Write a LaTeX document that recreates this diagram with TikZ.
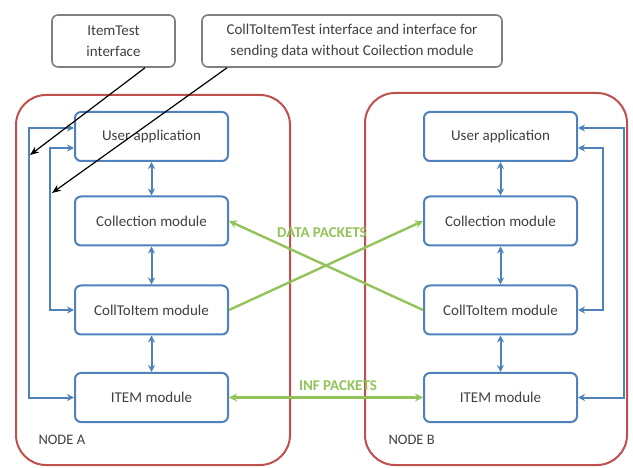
\documentclass[tikz,border=0pt]{standalone}
\usepackage{fontspec}
\setmainfont{Carlito}
\usetikzlibrary{arrows.meta}
\definecolor{bl}{HTML}{4F81BD}
\definecolor{rd}{HTML}{C0504D}
\definecolor{gn}{HTML}{92C45A}
\definecolor{gr}{HTML}{7F7F7F}
\definecolor{tx}{HTML}{404040}
\begin{document}
\begin{tikzpicture}[x=1pt,y=-1pt,
  module/.style={draw=bl, line width=2pt, rounded corners=6pt, minimum width=153pt, minimum height=49pt, text=tx, font=\fontsize{15}{17}\selectfont, inner sep=0pt},
  note/.style={draw=gr, line width=1.6pt, rounded corners=6pt, minimum height=52pt, text=tx, align=center, font=\fontsize{15}{21}\selectfont, inner sep=0pt},
  container/.style={draw=rd, line width=2pt, rounded corners=30pt},
  barr/.style={draw=bl, line width=2pt, {Stealth[length=7pt,width=7pt]}-{Stealth[length=7pt,width=7pt]}},
  garr/.style={draw=gn, line width=2.4pt, -{Stealth[length=8pt,width=8pt]}},
  gboth/.style={draw=gn, line width=2.4pt, {Stealth[length=8pt,width=8pt]}-{Stealth[length=8pt,width=8pt]}},
  karr/.style={draw=black, line width=1.2pt, -{Stealth[length=9pt,width=7pt]}},
  glabel/.style={text=gn, font=\bfseries\fontsize{15}{17}\selectfont},
  nlabel/.style={text=tx, font=\fontsize{14.5}{16}\selectfont, anchor=west}]
\useasboundingbox (0,0) rectangle (633,468);
\fill[white] (0,0) rectangle (633,468);
% containers
\draw[container] (16,95) rectangle (290,465);
\draw[container] (365,93) rectangle (627,465);
\node[nlabel] (na) at (35,440) {NODE A};
\node[nlabel] (nb) at (385,440) {NODE B};
% modules A
\node[module] (uaA) at (151.5,136.5) {User application};
\node[module] (colA) at (151.5,221) {Collection module};
\node[module] (ctA) at (151.5,310) {CollToItem module};
\node[module] (itA) at (151.5,397.5) {ITEM module};
% modules B
\node[module] (uaB) at (500.5,136.5) {User application};
\node[module] (colB) at (500.5,221) {Collection module};
\node[module] (ctB) at (500.5,310) {CollToItem module};
\node[module] (itB) at (500.5,397.5) {ITEM module};
% vertical links
\foreach \a/\b in {uaA/colA, colA/ctA, ctA/itA, uaB/colB, colB/ctB, ctB/itB}
  \draw[barr] (\a.south) -- (\b.north);
% feedback A
\draw[barr] ([yshift=8.5pt]uaA.west) -- ++(-45,0) |- (itA.west);
\draw[barr] ([yshift=-11.5pt]uaA.west) -- ++(-24,0) |- (ctA.west);
% feedback B
\draw[barr] ([yshift=8.5pt]uaB.east) -- ++(46,0) |- (itB.east);
\draw[barr] ([yshift=-11.5pt]uaB.east) -- ++(25,0) |- (ctB.east);
% notes
\node[note, minimum width=123pt] (itest) at (113.5,41) {ItemTest\\interface};
\node[note, minimum width=300pt] (ctest) at (352,41) {CollToItemTest interface and interface for\\sending data without Coilection module};
\coordinate (pA) at (30,155);
\coordinate (pB) at (52,193);
\draw[karr] ([xshift=31.5pt]itest.south) -- (pA);
\draw[karr] ([xshift=-125pt]ctest.south) -- (pB);
% green packets
\draw[garr] (ctA.east) -- (colB.west);
\draw[garr] (ctB.west) -- (colA.east);
\draw[gboth] (itA.east) -- (itB.west);
\node[glabel] (dp) at (322,233) {DATA PACKETS};
\node[glabel] (ip) at (338,386) {INF PACKETS};
\end{tikzpicture}
\end{document}
